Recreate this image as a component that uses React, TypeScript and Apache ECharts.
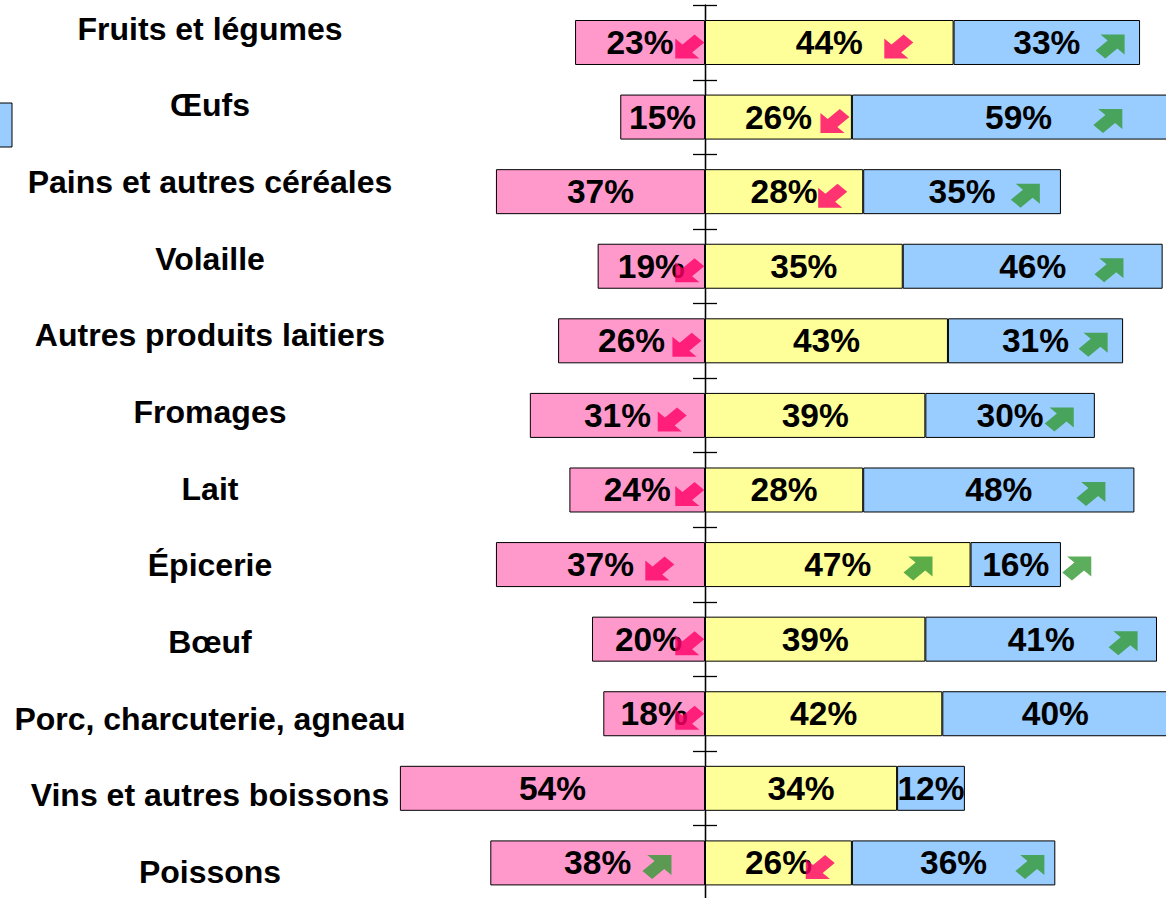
import React, { useEffect, useRef } from "react";
import * as echarts from "echarts";

const categories = [
  "Fruits et légumes",
  "Œufs",
  "Pains et autres céréales",
  "Volaille",
  "Autres produits laitiers",
  "Fromages",
  "Lait",
  "Épicerie",
  "Bœuf",
  "Porc, charcuterie, agneau",
  "Vins et autres boissons",
  "Poissons",
];
const pinkValues = [23, 15, 37, 19, 26, 31, 24, 37, 20, 18, 54, 38];
const yellowValues = [44, 26, 28, 35, 43, 39, 28, 47, 39, 42, 34, 26];
const blueValues = [33, 59, 35, 46, 31, 30, 48, 16, 41, 40, 12, 36];

// trend arrows: [x position in %, category index]
const arrowsUp: [number, number][] = [
  [71.7, 0], [71.3, 1], [56.7, 2], [71.5, 3], [68.7, 4], [62.7, 5], [68.3, 6],
  [37.7, 7], [65.8, 7], [74.0, 8], [-8.5, 11], [57.5, 11],
];
const arrowsDown: [number, number][] = [
  [-2.7, 0], [34.3, 0], [23.0, 1], [22.6, 2], [-2.7, 3], [-3.2, 4], [-5.8, 5],
  [-2.7, 6], [-8.0, 7], [-2.7, 8], [-2.7, 9], [20.4, 11],
];

const PINK = "#FF99CC";
const YELLOW = "#FFFF99";
const BLUE = "#99CCFF";
const ARROW_PINK = "#FF0066";
const ARROW_GREEN = "#339933";
const FONT = "'Liberation Sans', Arial, sans-serif";

const ARROW_PATH =
  "path://M0,5.657L3.535,2.121L1.414,0L8.485,0L8.485,7.071L6.364,4.950L2.828,8.485Z";

export default function App() {
  const ref = useRef<HTMLDivElement>(null);
  useEffect(() => {
    if (!ref.current) return;
    const chart = echarts.init(ref.current, undefined, { renderer: "svg" });
    const k = 5.65;
    const zeroX = 705;
    const minX = -60;
    const maxX = 90;
    const labelStyle = {
      show: true,
      position: "inside" as const,
      fontSize: 33.5,
      fontWeight: "bold" as const,
      fontFamily: FONT,
      color: "#000",
    };
    const barCommon = {
      type: "bar" as const,
      stack: "total",
      barWidth: 45,
      xAxisIndex: 0,
      yAxisIndex: 0,
      clip: false,
      z: 2,
    };
    const axisLineStyle = { color: "#000", width: 1.3 };
    chart.setOption({
      animation: false,
      backgroundColor: "#fff",
      grid: [
        {
          left: zeroX + minX * k,
          width: (maxX - minX) * k,
          top: 5.2,
          height: 895,
        },
        { left: 420, width: 100, top: 28.5, height: 843.5 },
      ],
      xAxis: [
        { type: "value", gridIndex: 0, min: minX, max: maxX, show: false },
        { type: "value", gridIndex: 1, min: 0, max: 1, show: false },
      ],
      yAxis: [
        {
          type: "category",
          gridIndex: 0,
          data: categories,
          inverse: true,
          axisLine: { show: true, onZero: true, onZeroAxisIndex: 0, lineStyle: axisLineStyle },
          axisTick: { show: true, inside: false, length: 12, lineStyle: axisLineStyle },
          axisLabel: { show: false },
          splitLine: { show: false },
        },
        {
          type: "category",
          gridIndex: 0,
          data: categories,
          inverse: true,
          position: "left",
          axisLine: { show: true, onZero: true, onZeroAxisIndex: 0, lineStyle: axisLineStyle },
          axisTick: { show: true, inside: true, length: 12, lineStyle: axisLineStyle },
          axisLabel: { show: false },
          splitLine: { show: false },
        },
        {
          type: "category",
          gridIndex: 1,
          data: categories,
          inverse: true,
          boundaryGap: false,
          axisLine: { show: false },
          axisTick: { show: false },
          splitLine: { show: false },
          axisLabel: {
            show: true,
            interval: 0,
            margin: 210,
            align: "center",
            fontSize: 32,
            fontWeight: "bold",
            fontFamily: FONT,
            color: "#000",
          },
        },
      ],
      series: [
        {
          ...barCommon,
          name: "pink",
          data: pinkValues.map((v) => -v),
          itemStyle: { color: PINK, borderColor: "#000", borderWidth: 1 },
          label: { ...labelStyle, formatter: (p: any) => Math.abs(p.value) + "%" },
        },
        {
          ...barCommon,
          name: "yellow",
          data: yellowValues,
          itemStyle: { color: YELLOW, borderColor: "#000", borderWidth: 1 },
          label: { ...labelStyle, formatter: (p: any) => p.value + "%" },
        },
        {
          ...barCommon,
          name: "blue",
          data: blueValues,
          itemStyle: { color: BLUE, borderColor: "#000", borderWidth: 1 },
          label: { ...labelStyle, formatter: (p: any) => p.value + "%" },
        },
        {
          type: "scatter",
          name: "up",
          xAxisIndex: 0,
          yAxisIndex: 0,
          z: 5,
          symbol: ARROW_PATH,
          symbolSize: [29, 24],
          symbolOffset: [0, 4],
          itemStyle: { color: ARROW_GREEN },
          data: arrowsUp,
        },
        {
          type: "scatter",
          name: "down",
          xAxisIndex: 0,
          yAxisIndex: 0,
          z: 5,
          symbol: ARROW_PATH,
          symbolSize: [29, 24],
          symbolRotate: 180,
          symbolOffset: [0, 4],
          itemStyle: { color: ARROW_PINK },
          data: arrowsDown,
        },
      ],
      graphic: [
        {
          type: "rect",
          shape: { x: -5, y: 103, width: 17, height: 44 },
          style: { fill: BLUE, stroke: "#000", lineWidth: 1 },
        },
      ],
    });
    return () => chart.dispose();
  }, []);
  return (
    <div
      style={{
        position: "absolute",
        left: 0,
        top: 0,
        width: 1166,
        height: 898,
        overflow: "hidden",
        background: "#fff",
      }}
    >
      <div ref={ref} style={{ width: 1240, height: 920 }} />
    </div>
  );
}
